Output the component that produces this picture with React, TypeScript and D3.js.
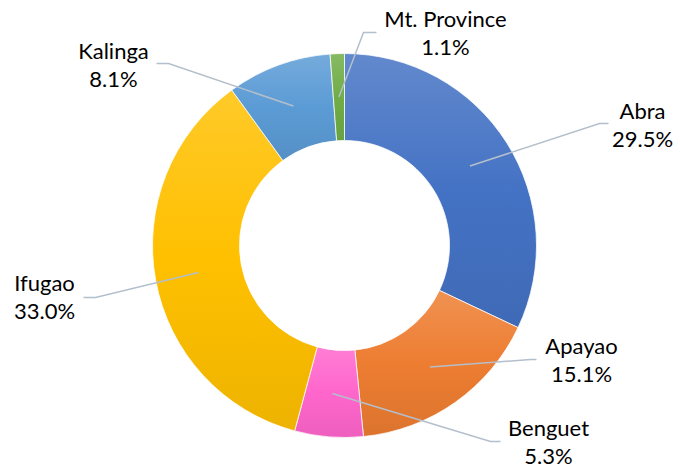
import React from "react";
import * as d3 from "d3";

const categories = ["Abra", "Apayao", "Benguet", "Ifugao", "Kalinga", "Mt. Province"];
const values = [29.5, 15.1, 5.3, 33.0, 8.1, 1.1];
const valueLabels = ["29.5%", "15.1%", "5.3%", "33.0%", "8.1%", "1.1%"];
const baseColors = ["#4472C4", "#ED7D31", "#FF66CC", "#FFC000", "#5B9BD5", "#70AD47"];

// label layout relative to the donut centre: elbow, end of horizontal tail, text centre / first baseline
const labelLayout = [
  { elbow: [255, -122], end: [264, -122], tx: 298, ty: -127 },
  { elbow: [186, 114], end: [192, 114], tx: 237, ty: 108 },
  { elbow: [146, 196], end: [156, 196], tx: 204, ty: 190 },
  { elbow: [-249, 52], end: [-261, 52], tx: -300, ty: 45 },
  { elbow: [-176, -182], end: [-188, -182], tx: -231, ty: -187 },
  { elbow: [19, -213], end: [32, -213], tx: 101, ty: -219 },
];

const W = 680;
const H = 469;
const cx = 344.5;
const cy = 245.5;
const outerR = 192;
const innerR = 105;
const FONT = "Lato, 'Open Sans', sans-serif";

export default function App() {
  const pie = d3.pie<number>().sort(null).value((d) => d);
  const arcs = pie(values);
  const arc = d3.arc<d3.PieArcDatum<number>>().innerRadius(innerR).outerRadius(outerR);

  return (
    <svg
      width={W}
      height={H}
      style={{ position: "absolute", left: 0, top: 0, background: "#fff" }}
    >
      <defs>
        {baseColors.map((c, i) => {
          const light = d3.interpolateRgb(c, "#ffffff")(0.16);
          const dark = d3.interpolateRgb(c, "#000000")(0.07);
          return (
            <linearGradient key={i} id={`g${i}`} x1="0" y1="0" x2="0" y2="1">
              <stop offset="0%" stopColor={light} />
              <stop offset="50%" stopColor={c} />
              <stop offset="100%" stopColor={dark} />
            </linearGradient>
          );
        })}
      </defs>
      <g transform={`translate(${cx},${cy})`}>
        {arcs.map((a, i) => (
          <path key={i} d={arc(a)!} fill={`url(#g${i})`} stroke="#fff" strokeWidth={0.75} />
        ))}
        {arcs.map((a, i) => {
          const [px, py] = arc.centroid(a);
          const L = labelLayout[i];
          return (
            <polyline
              key={`l${i}`}
              points={`${px},${py} ${L.elbow[0]},${L.elbow[1]} ${L.end[0]},${L.end[1]}`}
              fill="none"
              stroke="#B4BFCC"
              strokeWidth={1.5}
            />
          );
        })}
        {arcs.map((a, i) => {
          const L = labelLayout[i];
          return (
            <text
              key={`t${i}`}
              x={L.tx}
              y={L.ty}
              textAnchor="middle"
              fontFamily={FONT}
              fontSize={22}
              fill="#000"
            >
              <tspan x={L.tx} dy={0}>{categories[i]}</tspan>
              <tspan x={L.tx} dy={28.5}>{valueLabels[i]}</tspan>
            </text>
          );
        })}
      </g>
    </svg>
  );
}
